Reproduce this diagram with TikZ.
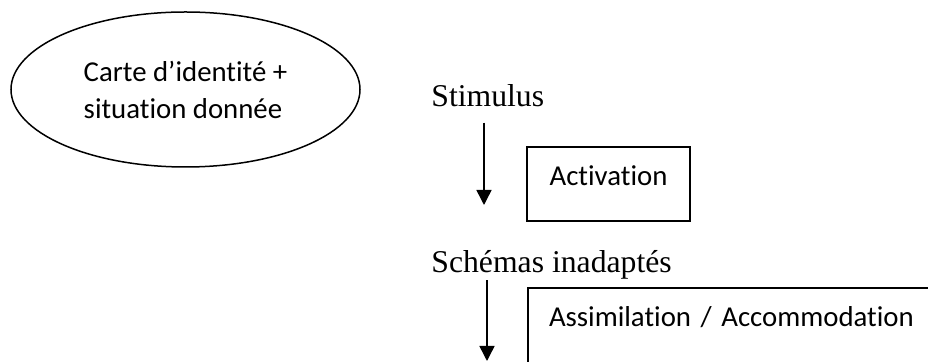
\documentclass[tikz,border=0pt]{standalone}
\usepackage{fontspec}
\setmainfont{Liberation Serif}
\newfontfamily\calib[Ligatures={NoCommon}]{Carlito}
\usepackage{tikz}
\usetikzlibrary{shapes.geometric, arrows.meta, positioning, calc}

\begin{document}
\begin{tikzpicture}[x=0.5pt, y=-0.5pt,
    oval/.style={draw, ellipse, line width=0.75pt, minimum width=174.5pt, minimum height=77.5pt, align=left, font=\calib\fontsize{14.4}{18.5}\selectfont},
    boxnode/.style={draw, rectangle, line width=1pt, inner ysep=0pt, text height=19.5pt, font=\calib\fontsize{14.4}{18.5}\selectfont},
    step label/.style={inner sep=0pt, anchor=base west, font=\fontsize{15.85}{19}\selectfont},
    arr/.style={line width=0.75pt, -{Triangle[width=7.5pt, length=7.5pt]}}]
    \useasboundingbox (0,0) rectangle (928,362);
    \fill[white] (0,0) rectangle (928,362);
    \clip (0,0) rectangle (928,362);

    % left oval
    \node[oval] (carte) at (185.5,89.5) {Carte d’identité +\\situation donnée};

    % stimulus -> activation
    \node[step label] (stim) at (431,107) {Stimulus};
    \node[boxnode, anchor=base, text depth=17.5pt, minimum width=81.5pt] (activ) at (608.5,186) {Activation};
    \coordinate (tipA) at (484,205);
    \draw[arr] ($(tipA |- stim.south)+(0,15)$) -- (tipA);

    % schemas -> assimilation
    \node[step label] (schem) at (431,273) {Schémas inadaptés};
    \node[boxnode, anchor=base west, text depth=40pt, text width=200pt, inner xsep=10.5pt, align=left] (assim) at (527,327) {Assimilation / Accommodation};
    \coordinate (tipB) at (487,361);
    \draw[arr] (tipB |- schem.south) -- (tipB);
\end{tikzpicture}
\end{document}
